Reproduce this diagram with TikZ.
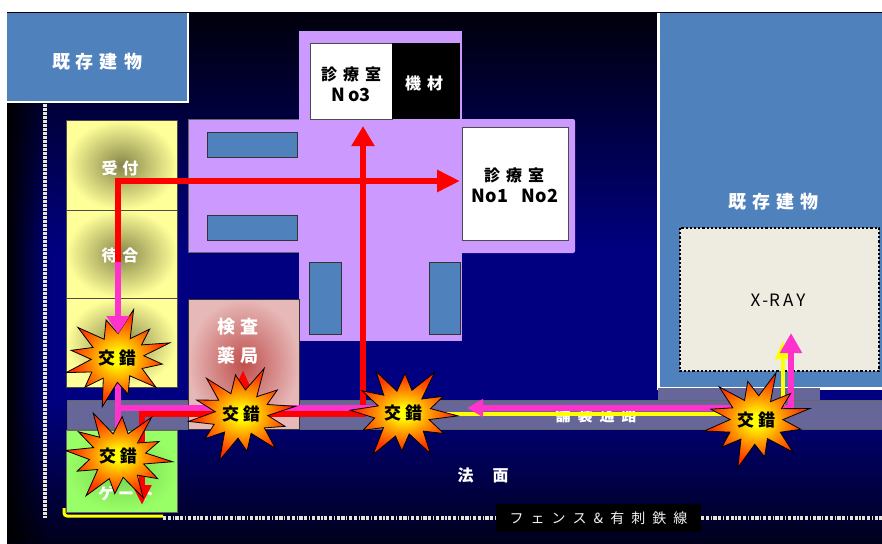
\documentclass[tikz,border=0pt]{standalone}
\usepackage{fontspec}
\setmainfont{Noto Sans CJK JP}
\usetikzlibrary{arrows.meta,fadings}

\definecolor{skytop}{HTML}{00000C}
\definecolor{skymid}{HTML}{000080}
\definecolor{skybot}{HTML}{00001C}
\definecolor{bldblue}{HTML}{4F81BD}
\definecolor{wingcol}{HTML}{CC99FF}
\definecolor{roadcol}{HTML}{666699}
\definecolor{xraycol}{HTML}{EEECE1}
\definecolor{fencecol}{HTML}{E6E4D8}
\definecolor{pathpink}{HTML}{FF33CC}
\definecolor{pathred}{HTML}{FF0000}
\definecolor{pathyel}{HTML}{FFFF00}
\definecolor{deskout}{HTML}{FFFF99}
\definecolor{deskin}{HTML}{86864A}
\definecolor{pharmout}{HTML}{E6B8B7}
\definecolor{pharmin}{HTML}{C0504D}
\definecolor{gateout}{HTML}{99FF66}
\definecolor{gatein}{HTML}{74D24E}
\definecolor{blastA}{HTML}{FFFF00}
\definecolor{blastB}{HTML}{FF9900}
\definecolor{blastC}{HTML}{FF3300}

% radial fill of the starbursts (TikZ maps the inner 25bp radius onto the path)
\pgfdeclareradialshading{blast}{\pgfpoint{0bp}{0bp}}{color(0bp)=(blastA); color(3bp)=(blastA); color(12bp)=(blastB); color(22bp)=(blastC); color(50bp)=(blastC)}
\tikzfading[name=edgefade, left color=transparent!0, right color=transparent!100]

\newcommand{\tk}[1]{\hspace{#1pt}}

% starburst "交錯" marker: name, x, y, rotation
\newcommand{\blastat}[4]{%
  \begin{scope}[shift={(#2,#3)}, rotate=#4, yscale=0.86]
    \path[shade, shading=blast, draw=black, line width=0.8pt, line join=miter]
      (0:55) -- (13:27) -- (27:47) -- (43:29) -- (57:54) -- (73:25) --
      (89:44) -- (103:28) -- (119:57) -- (136:26) -- (150:45) -- (165:29) --
      (180:53) -- (195:26) -- (209:48) -- (224:28) -- (238:55) -- (254:26) --
      (270:46) -- (286:28) -- (301:57) -- (316:25) -- (331:45) -- (346:28) -- cycle;
  \end{scope}
  \node[blasttext] (#1) at (#2,#3) {交\tk{4}錯};
}

\begin{document}
\begin{tikzpicture}[x=1pt, y=-1pt,
  wtxt/.style={text=white, font=\bfseries\fontsize{16}{18}\selectfont, inner sep=0pt},
  btxt/.style={text=black, font=\bfseries\fontsize{16}{18}\selectfont, inner sep=0pt},
  bigtxt/.style={wtxt, font=\bfseries\fontsize{18}{20}\selectfont},
  latin/.style={font=\bfseries\fontsize{18}{20}\selectfont},
  blasttext/.style={text=black, font=\bfseries\fontsize{17}{18}\selectfont, inner sep=0pt},
  room/.style={fill=white, draw=black!70, line width=0.8pt},
  window/.style={fill=bldblue, draw=black!80, line width=0.8pt},
  desk/.style={inner color=deskin, outer color=deskout, draw=black!70, line width=0.6pt},
  redln/.style={draw=pathred, line width=6pt},
  pinkln/.style={draw=pathpink, line width=6pt},
  yelln/.style={draw=pathyel, line width=4pt},
  fencev/.style={draw=fencecol, line width=4.5pt, dash pattern=on 2.6pt off 1.4pt},
  fenceh/.style={draw=fencecol, line width=3.5pt, dash pattern=on 3.2pt off 1.6pt on 3.2pt off 1.6pt on 1.2pt off 1.6pt}]

\useasboundingbox (0,0) rectangle (882,543);
\fill[white] (0,0) rectangle (882,543);

% night ground
\shade[top color=skytop, bottom color=skymid] (7,13) rectangle (882,251);
\fill[skymid] (7,250) rectangle (882,401);
\shade[top color=skymid, bottom color=skybot] (7,400) rectangle (882,543);
\fill[black, path fading=edgefade] (7,13) rectangle (50,543);

% existing building, left
\fill[bldblue] (7,13) rectangle (188,102);
\draw[white, line width=2pt] (188,13) -- (188,102) -- (7,102);
\node[bigtxt] (oldL) at (97,62) {既\tk{6}存\tk{6}建\tk{6}物};

% existing building, right, with X-ray room
\fill[bldblue] (658,13) rectangle (882,388);
\draw[white, line width=3pt] (658,13) -- (658,388) -- (882,388);
\node[bigtxt] (oldR) at (773,202) {既\tk{6}存\tk{6}建\tk{6}物};
\draw[fill=xraycol, draw=black, line width=2.2pt, dotted] (680,228) rectangle (879,371);
\node[text=black, font=\fontsize{17}{18}\selectfont, inner sep=0pt] (xray) at (778,300)
  {X\tk{2}-\tk{1}R\tk{3}A\tk{3}Y};

% fences
\draw[fencev] (45,104) -- (45,518);
\draw[fenceh] (163,518) -- (496,518);
\draw[fenceh] (701,518) -- (882,518);
\node[fill=black, text=white!94!black, font=\fontsize{14}{16}\selectfont,
  minimum width=205pt, minimum height=28pt, inner sep=0pt] (fencelbl) at (598.5,518)
  {フ\tk{7}ェ\tk{7}ン\tk{7}ス\tk{7}\&\tk{7}有\tk{7}刺\tk{7}鉄\tk{7}線};

% clinic block
\filldraw[fill=wingcol, draw=black!60, line width=0.8pt] (188,119) rectangle (299,252);
\fill[wingcol] (299,31) rectangle (462,341);
\fill[wingcol, rounded corners=2pt] (460,119) rectangle (575,253);
\draw[window] (207,132) rectangle (297,157);
\draw[window] (207,215) rectangle (297,240);
\draw[window] (309,262) rectangle (341,334);
\draw[window] (429,262) rectangle (460,334);
\draw[room] (310,43) rectangle (392,119);
\fill[black] (392,43) rectangle (460,119);
\draw[room] (462,127) rectangle (568,240);
\node[btxt] (r3a) at (351,74) {診\tk{6}療\tk{6}室};
\node[btxt, latin] (r3b) at (351,95) {N\tk{3}o3};
\node[wtxt] (kizai) at (424,83) {機\tk{6}材};
\node[btxt] (r12a) at (514,175) {診\tk{6}療\tk{6}室};
\node[btxt, latin] (r12b) at (515,196) {No1\tk{14}No2};

% paved path
\fill[roadcol] (658,388) rectangle (820,400);
\filldraw[fill=roadcol, draw=black!60, line width=0.6pt] (67,400) rectangle (882,429);
\node[wtxt, font=\bfseries\fontsize{15}{16}\selectfont] (road) at (596,416) {舗\tk{7}装\tk{7}通\tk{7}路};
\node[wtxt] (slope) at (483,475) {法\tk{19}面};

% reception, waiting, pharmacy, gate
\shadedraw[desk] (66,120) rectangle (177,210);
\shadedraw[desk] (66,210) rectangle (177,298);
\shadedraw[desk] (66,298) rectangle (177,387);
\node[wtxt] (recep) at (120,168) {受\tk{5}付};
\node[wtxt] (wait) at (120,255) {待\tk{5}合};
\shadedraw[inner color=pharmin, outer color=pharmout, draw=black!80, line width=0.8pt] (188,299) rectangle (299,429);
\node[wtxt, font=\bfseries\fontsize{18}{20}\selectfont] (pharmA) at (238,327) {検\tk{6}査};
\node[wtxt, font=\bfseries\fontsize{18}{20}\selectfont] (pharmB) at (238,356) {薬\tk{6}局};
\shadedraw[inner color=gatein, outer color=gateout, draw=black!60, line width=0.6pt] (66,430) rectangle (177,512);
\node[wtxt] (gate) at (126,493) {ゲ\tk{4}ー\tk{4}ト};
\draw[pathyel, line width=3pt, rounded corners=3pt] (64,508) -- (64,516) -- (163,516);

% flow lines
\coordinate (deskTop) at (118,265);
\coordinate (roomsIn) at (460,181);
\coordinate (r3In) at (363,126);
\coordinate (gateOut) at (142,505);
\coordinate (pharmIn) at (243,370);
\coordinate (roadJoin) at (243,414);
\coordinate (yelStart) at (443,414);
\coordinate (xrayInY) at (783,341);
\coordinate (pinkTop) at (118,262);
\coordinate (pinkMid) at (118,334);
\coordinate (pinkLow) at (118,483);
\coordinate (pinkRoad) at (118,408);
\coordinate (pinkEnd) at (400,408);
\coordinate (pinkLeft) at (467,408);
\coordinate (xrayInP) at (791,333);

\draw[redln, -{Triangle[length=23pt, width=21pt]}] (deskTop) |- (roomsIn);
\draw[redln, {Triangle[length=20pt, width=22pt]}-{Triangle[length=20pt, width=18pt]}]
  (r3In) -- (363,414) -- (142,414) -- (gateOut);
\draw[redln, -{Triangle[length=20pt, width=16pt]}] (roadJoin) -- (pharmIn);
\draw[yelln, -{Triangle[length=18pt, width=15pt]}] (yelStart) -| (xrayInY);
\draw[pinkln] (pinkMid) -- (pinkLow);
\draw[pinkln] (pinkRoad) -- (pinkEnd);
\draw[pinkln, {Triangle[length=16pt, width=17pt]}-{Triangle[length=20pt, width=21pt]}]
  (pinkLeft) -| (xrayInP);

% crossing points
\blastat{x1}{117}{358}{16}
\blastat{x2}{118}{456}{-6}
\blastat{x3}{241}{414}{8}
\blastat{x4}{403}{413}{-3}
\blastat{x5}{756}{420}{12}

% the waiting-room arrow ends just on the top burst
\draw[pinkln, -{Triangle[length=18pt, width=22pt]}] (pinkTop) -- (pinkMid);

\end{tikzpicture}
\end{document}
